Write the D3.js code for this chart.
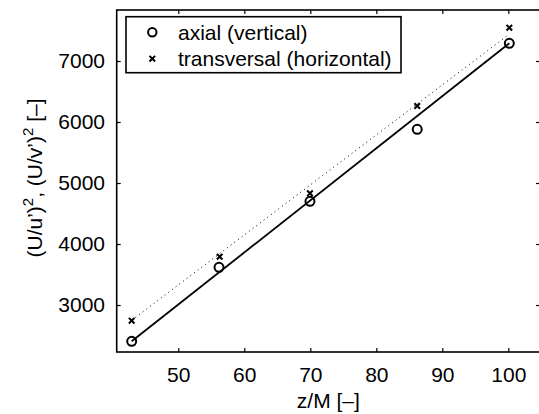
<!DOCTYPE html>
<html><head><meta charset="utf-8">
<script src="https://cdn.jsdelivr.net/npm/d3@7"></script>
<style>
html,body{margin:0;padding:0;background:#fff;}
svg{display:block;}
text{font-family:"Liberation Sans",Arial,Helvetica,sans-serif;fill:#000;}
</style></head>
<body>
<svg id="chart" width="539" height="414"></svg>
<script>
// ---- data ----
const zM = [42.94, 56.17, 69.95, 86.2, 100.15];
const axial = [2405, 3618, 4700, 5880, 7290];
const zMt = [42.94, 56.27, 69.95, 86.2, 100.15];
const transversal = [2743, 3792, 4831, 6262, 7546];
const fitAxialX = [42.94, 100.15];
const fitAxialY = [2405, 7290];
const fitTransX = [42.94, 100.15];
const fitTransY = [2750, 7440];
const xTicks = [50, 60, 70, 80, 90, 100];
const yTicks = [3000, 4000, 5000, 6000, 7000];
const legendLabels = ["axial (vertical)", "transversal (horizontal)"];
const xDomain = [40.67, 104.8];
const yDomain = [2230, 7836];

const svg = d3.select("#chart");
const m = {left: 116.7, top: 10, right: 540, bottom: 352};
const x = d3.scaleLinear().domain(xDomain).range([m.left, m.right]);
const y = d3.scaleLinear().domain(yDomain).range([m.bottom, m.top]);
const FS = 21;

// axes
const gx = svg.append("g").attr("transform", `translate(0,${m.bottom})`)
  .call(d3.axisBottom(x).tickValues(xTicks).tickSize(-4).tickPadding(10).tickFormat(d3.format("d")));
const gxt = svg.append("g").attr("transform", `translate(0,${m.top})`)
  .call(d3.axisTop(x).tickValues(xTicks).tickSize(-4).tickFormat(""));
const gy = svg.append("g").attr("transform", `translate(${m.left},0)`)
  .call(d3.axisLeft(y).tickValues(yTicks).tickSize(-4).tickPadding(12).tickFormat(d3.format("d")));
const gyr = svg.append("g").attr("transform", `translate(${m.right},0)`)
  .call(d3.axisRight(y).tickValues(yTicks).tickSize(-4).tickFormat(""));
[gx, gxt, gy, gyr].forEach(g => {
  g.select(".domain").remove();
  g.selectAll(".tick line").attr("stroke", "#000").attr("stroke-width", 1.2);
  g.selectAll(".tick text").attr("font-size", FS).attr("font-family", "Liberation Sans, Arial, sans-serif").attr("fill", "#000");
});
gx.selectAll(".tick text").attr("dy", "0.71em").attr("y", 15);
gy.selectAll(".tick text").attr("x", -11.7);

// frame
svg.append("rect").attr("x", m.left).attr("y", m.top)
  .attr("width", m.right - m.left).attr("height", m.bottom - m.top)
  .attr("fill", "none").attr("stroke", "#000").attr("stroke-width", 1.6);

// fit lines
const line = d3.line().x(d => x(d[0])).y(d => y(d[1]));
svg.append("path").datum(d3.zip(fitTransX, fitTransY)).attr("d", line)
  .attr("fill", "none").attr("stroke", "#000").attr("stroke-width", 1)
  .attr("stroke-dasharray", "1,3.6");
svg.append("path").datum(d3.zip(fitAxialX, fitAxialY)).attr("d", line)
  .attr("fill", "none").attr("stroke", "#000").attr("stroke-width", 1.8);

// markers
const crossPath = s => `M${-s},${-s}L${s},${s}M${-s},${s}L${s},${-s}`;
svg.append("g").selectAll("circle").data(d3.zip(zM, axial)).join("circle")
  .attr("cx", d => x(d[0])).attr("cy", d => y(d[1])).attr("r", 4.5)
  .attr("fill", "none").attr("stroke", "#000").attr("stroke-width", 2);
svg.append("g").selectAll("path").data(d3.zip(zMt, transversal)).join("path")
  .attr("transform", d => `translate(${x(d[0])},${y(d[1])})`)
  .attr("d", crossPath(2.8)).attr("fill", "none").attr("stroke", "#000").attr("stroke-width", 2);

// legend
const lg = svg.append("g");
lg.append("rect").attr("x", 126).attr("y", 16.7).attr("width", 275).attr("height", 56)
  .attr("fill", "#fff").attr("stroke", "#000").attr("stroke-width", 1.6);
const rows = [32.3, 58.7];
lg.append("circle").attr("cx", 152.3).attr("cy", rows[0]).attr("r", 4.2)
  .attr("fill", "none").attr("stroke", "#000").attr("stroke-width", 2);
lg.append("path").attr("transform", `translate(152.3,${rows[1]})`).attr("d", crossPath(2.8))
  .attr("fill", "none").attr("stroke", "#000").attr("stroke-width", 2);
legendLabels.forEach((t, i) => {
  lg.append("text").attr("x", 178).attr("y", rows[i] + 7.5).attr("font-size", FS).text(t);
});

// axis labels
svg.append("text").attr("x", (m.left + m.right) / 2).attr("y", 408)
  .attr("text-anchor", "middle").attr("font-size", FS).text("z/M [–]");

const yl = svg.append("text").attr("transform", "translate(42,178) rotate(-90)")
  .attr("text-anchor", "middle").attr("font-size", FS);
yl.append("tspan").text("(U/u’)");
yl.append("tspan").attr("font-size", 15).attr("dy", -9).text("2");
yl.append("tspan").attr("dy", 9).text(", (U/v’)");
yl.append("tspan").attr("font-size", 15).attr("dy", -9).text("2");
yl.append("tspan").attr("dy", 9).text(" [–]");
</script>
</body></html>
